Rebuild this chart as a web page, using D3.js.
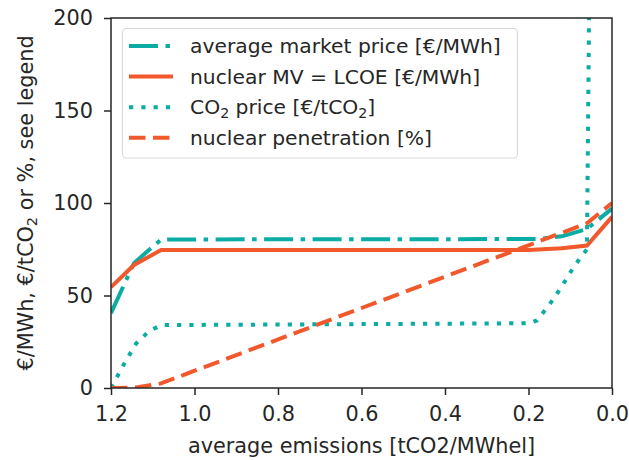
<!DOCTYPE html>
<html><head><meta charset="utf-8">
<script src="https://cdn.jsdelivr.net/npm/d3@7"></script>
<style>body{margin:0;background:#fff;} text{font-family:"DejaVu Sans",sans-serif;fill:#262626;}</style>
</head><body><svg id="c" width="629" height="460"></svg>
<script>
const marketX = [1.2, 1.145, 1.08, 0.18, 0.12, 0.06, 0.0];
const marketY = [40.5, 67.5, 80.3, 80.5, 82, 86, 97];
const nuclearX = [1.2, 1.145, 1.08, 0.2, 0.12, 0.06, 0.0];
const nuclearY = [54.5, 66.5, 74.6, 74.6, 75.5, 77, 92.5];
const co2X = [1.2, 1.17, 1.14, 1.11, 1.08, 0.2, 0.18, 0.15, 0.12, 0.09, 0.06, 0.0];
const co2Y = [0, 12.5, 24, 30.5, 34, 35, 36.5, 45, 55, 66, 75, 1575];
const penX = [1.2, 1.14, 1.08, 0.06, 0.0];
const penY = [0, 0.3, 2.5, 89, 100];
const xTicks = [1.2, 1.0, 0.8, 0.6, 0.4, 0.2, 0.0];
const yTicks = [0, 50, 100, 150, 200];
const legendLabels = ["average market price [€/MWh]", "nuclear MV = LCOE [€/MWh]", "CO|2| price [€/tCO|2|]", "nuclear penetration [%]"];

const teal = "#0aaca3", red = "#f1582c";
const svg = d3.select("#c");
const L = 111, R = 612, T = 18, B = 388;
const x = d3.scaleLinear().domain([1.2, 0]).range([L, R]);
const y = d3.scaleLinear().domain([0, 200]).range([B, T]);

svg.append("defs").append("clipPath").attr("id","clip").append("rect")
  .attr("x", L).attr("y", T).attr("width", R-L).attr("height", B-T);

const series = [
  {xs: marketX, ys: marketY, color: teal, dash: "29,7.5,4.5,7.5"},
  {xs: nuclearX, ys: nuclearY, color: red, dash: null},
  {xs: co2X, ys: co2Y, color: teal, dash: "4.2,8.1"},
  {xs: penX, ys: penY, color: red, dash: "16.5,7.5"}
];
const line = d3.line().x(d => x(d[0])).y(d => y(d[1]));
const g = svg.append("g").attr("clip-path", "url(#clip)");
series.forEach(s => {
  g.append("path").datum(s.xs.map((v,i)=>[v, s.ys[i]]))
    .attr("d", line).attr("fill","none").attr("stroke", s.color)
    .attr("stroke-width", 4).attr("stroke-dasharray", s.dash);
});

// axes
const xa = svg.append("g").attr("transform", `translate(0,${B})`)
  .call(d3.axisBottom(x).tickValues(xTicks).tickFormat(d3.format(".1f")).tickSize(7).tickPadding(11));
const ya = svg.append("g").attr("transform", `translate(${L},0)`)
  .call(d3.axisLeft(y).tickValues(yTicks).tickSize(7).tickPadding(11));
[xa, ya].forEach(a => {
  a.select(".domain").remove();
  a.selectAll(".tick line").attr("stroke", "#262626").attr("stroke-width", 1.5);
  a.selectAll(".tick text").style("font-size", "20.8px").attr("fill", "#262626");
});
svg.append("rect").attr("x", L).attr("y", T).attr("width", R-L).attr("height", B-T)
  .attr("fill","none").attr("stroke","#262626").attr("stroke-width",1.5);

svg.append("text").attr("x", (L+R)/2).attr("y", 453).attr("text-anchor","middle")
  .style("font-size","20.8px").text("average emissions [tCO2/MWhel]");

const yl = svg.append("text").attr("transform", `translate(33,${(T+B)/2}) rotate(-90)`)
  .attr("text-anchor","middle").style("font-size","20.8px");
function addRich(t, str, fs) {
  str.split("|").forEach((part, i) => {
    if (!part) return;
    const ts = t.append("tspan").text(part);
    if (i % 2 === 1) ts.attr("baseline-shift", "-25%").style("font-size", (fs*0.7)+"px");
  });
}
addRich(yl, "€/MWh, €/tCO|2| or %, see legend", 20.8);

// legend
const lg = svg.append("g");
lg.append("rect").attr("x", 122.5).attr("y", 28.5).attr("width", 395).attr("height", 129.5)
  .attr("rx", 4).attr("fill", "#fff").attr("fill-opacity", 0.8).attr("stroke", "#d9d9d9").attr("stroke-width", 1.2);
legendLabels.forEach((lab, i) => {
  const cy = 46 + i * 30.6;
  const s = series[i];
  lg.append("line").attr("x1", 129).attr("x2", 173).attr("y1", cy).attr("y2", cy)
    .attr("stroke", s.color).attr("stroke-width", 4).attr("stroke-dasharray", s.dash);
  const t = lg.append("text").attr("x", 190).attr("y", cy + 7).style("font-size", "20.3px");
  addRich(t, lab, 20.3);
});
</script></body></html>
